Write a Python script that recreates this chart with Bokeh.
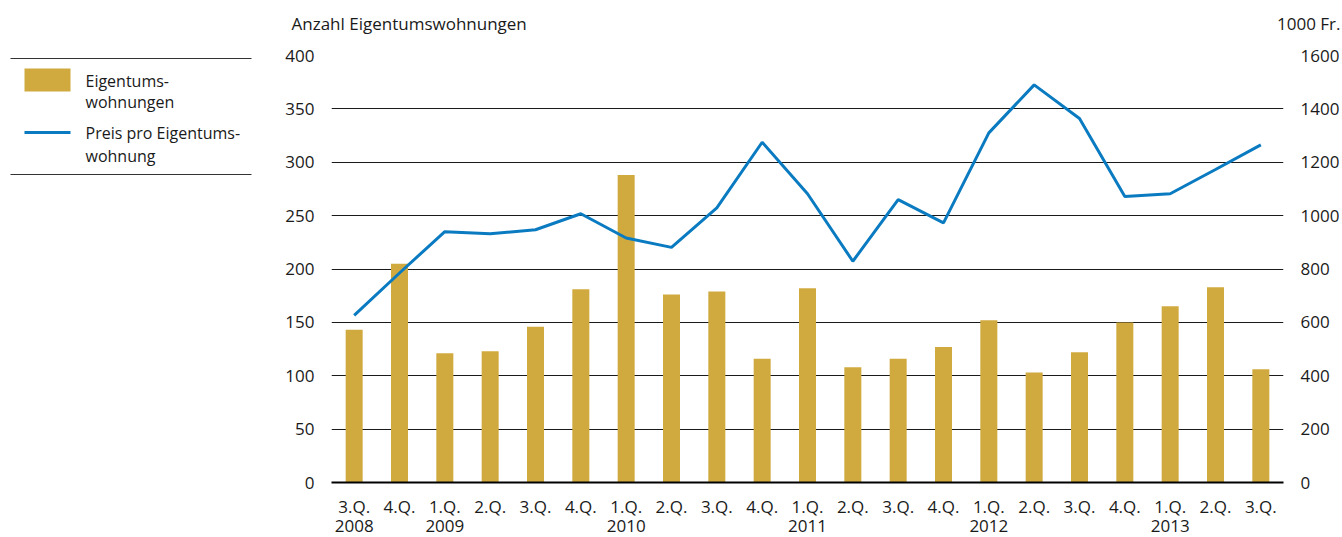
from bokeh.plotting import figure
from bokeh.models import (ColumnDataSource, Range1d, LinearAxis, SingleIntervalTicker, FixedTicker)
from bokeh.layouts import row, column
from bokeh.core.properties import value
from bokeh.embed import file_html
from bokeh.resources import INLINE

# ---------------- data ----------------
quarters = ["3.Q.", "4.Q.", "1.Q.", "2.Q.", "3.Q.", "4.Q.", "1.Q.", "2.Q.", "3.Q.", "4.Q.",
            "1.Q.", "2.Q.", "3.Q.", "4.Q.", "1.Q.", "2.Q.", "3.Q.", "4.Q.", "1.Q.", "2.Q.", "3.Q."]
year_labels = ["2008", "", "2009", "", "", "", "2010", "", "", "",
               "2011", "", "", "", "2012", "", "", "", "2013", "", ""]
wohnungen = [143, 205, 121, 123, 146, 181, 288, 176, 179, 116, 182,
             108, 116, 127, 152, 103, 122, 150, 165, 183, 106]
preis = [626, 785, 940, 932, 947, 1007, 916, 881, 1029, 1275, 1082,
         829, 1060, 973, 1310, 1490, 1364, 1072, 1082, 1173, 1265]

left_title = "Anzahl Eigentumswohnungen"
right_title = "1000 Fr."
legend_bar = ["Eigentums-", "wohnungen"]
legend_line = ["Preis pro Eigentums-", "wohnung"]

FONT = "Open Sans"
TXT = "#1a1a1a"
GOLD = "#D0AA3F"
BLUE = "#0A7BC1"
FS = "16px"
FS_TICK = "17px"

idx = list(range(len(quarters)))
q_over = {i: q for i, q in zip(idx, quarters)}
y_ticks = [i for i, yl in zip(idx, year_labels) if yl]
y_over = {i: yl for i, yl in zip(idx, year_labels) if yl}
src = ColumnDataSource(dict(x=idx, n=wohnungen, p=preis))

W = 1342
H = 537
H_TOP = 40
H_ROW = H - H_TOP
W_LEG = 270
FRAME_L, FRAME_R, FRAME_T, FRAME_B = 331, 1289, 55, 482

# ---------------- title strip ----------------
top = figure(width=W, height=H_TOP, output_backend="svg", toolbar_location=None,
             x_range=Range1d(0, W), y_range=Range1d(H_TOP, 0),
             x_axis_location=None, y_axis_location=None, min_border=0)
top.outline_line_color = None
top.grid.visible = False
top.text(x=[291], y=[23], text=[left_title], text_font=value(FONT), text_font_size=FS_TICK,
         text_color=TXT, text_baseline="middle", text_align="left")
top.text(x=[1340], y=[23], text=[right_title], text_font=value(FONT), text_font_size=FS_TICK,
         text_color=TXT, text_baseline="middle", text_align="right")

# ---------------- legend panel (frame aligned with chart frame; y in page px) ----------------
lg = figure(width=W_LEG, height=H_ROW, output_backend="svg", toolbar_location=None,
            x_range=Range1d(0, W_LEG), y_range=Range1d(FRAME_B, FRAME_T),
            x_axis_location=None, y_axis_location=None, min_border=0,
            min_border_top=FRAME_T - H_TOP, min_border_bottom=H - FRAME_B)
lg.outline_line_color = None
lg.grid.visible = False
lg.segment(x0=[10, 10], y0=[58, 174], x1=[251, 251], y1=[58, 174], line_color="#333333", line_width=1.2)
lg.quad(left=[24], right=[70], top=[68], bottom=[91], fill_color=GOLD, line_color=None)
lg.line(x=[24, 70], y=[132, 132], line_color=BLUE, line_width=3)
lg.text(x=[85, 85, 85, 85], y=[80, 101, 132, 155],
        text=legend_bar + legend_line,
        text_font=value(FONT), text_font_size=FS, text_color=TXT, text_baseline="middle")

# ---------------- main chart ----------------
W_MAIN = W - W_LEG
p = figure(width=W_MAIN, height=H_ROW, output_backend="svg", toolbar_location=None,
           x_range=Range1d(-0.5, len(idx) - 0.5), y_range=Range1d(0, 400),
           min_border=0, min_border_left=FRAME_L - W_LEG, min_border_right=W - FRAME_R,
           min_border_top=FRAME_T - H_TOP, min_border_bottom=H - FRAME_B)
p.outline_line_color = None
p.extra_y_ranges = {"price": Range1d(0, 1600)}

p.vbar(x="x", top="n", width=0.375, source=src, fill_color=GOLD, line_color=None)
p.line(x="x", y="p", source=src, y_range_name="price", line_color=BLUE, line_width=3)

# grid
p.xgrid.visible = False
p.ygrid.ticker = SingleIntervalTicker(interval=50)
p.ygrid.grid_line_color = "#1a1a1a"
p.ygrid.grid_line_width = 1.2

def style_axis(ax, standoff):
    ax.axis_line_color = None
    ax.major_tick_line_color = None
    ax.minor_tick_line_color = None
    ax.major_label_standoff = standoff
    ax.major_label_text_font = FONT
    ax.major_label_text_font_size = FS_TICK
    ax.major_label_text_color = TXT

# left axis
ya = p.yaxis[0]
ya.ticker = SingleIntervalTicker(interval=50)
style_axis(ya, 11)

# right axis
ra = LinearAxis(y_range_name="price", ticker=SingleIntervalTicker(interval=200))
style_axis(ra, 11)
p.add_layout(ra, "right")

# x axis: quarters
xa = p.xaxis[0]
xa.ticker = FixedTicker(ticks=idx)
style_axis(xa, 6)
xa.axis_line_color = "black"
xa.axis_line_width = 2.2
xa.major_label_overrides = q_over

# x axis: years
xy = LinearAxis(ticker=FixedTicker(ticks=y_ticks), major_label_overrides=y_over)
style_axis(xy, -7)
p.add_layout(xy, "below")

layout = column(top, row(lg, p, spacing=0), spacing=0)
open("out.html", "w").write(file_html(layout, INLINE))
